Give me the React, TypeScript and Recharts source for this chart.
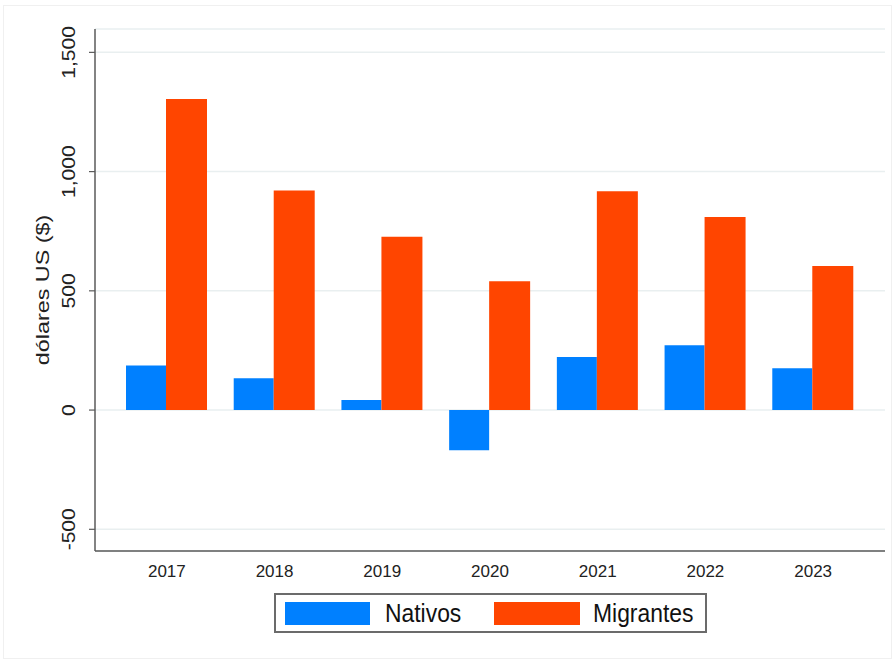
import React from "react";
import {
  Bar,
  BarChart,
  CartesianGrid,
  Legend,
  XAxis,
  YAxis,
} from "recharts";

const years = ["2017", "2018", "2019", "2020", "2021", "2022", "2023"];
const nativos = [187, 133, 42, -169, 223, 272, 175];
const migrantes = [1304, 921, 727, 540, 918, 810, 604];
const yTicks = [-500, 0, 500, 1000, 1500];

const data = years.map((year, i) => ({
  year,
  Nativos: nativos[i],
  Migrantes: migrantes[i],
}));

const fontFamily = "Arial, 'Liberation Sans', sans-serif";
const blue = "#0080ff";
const orange = "#ff4500";
const axisColor = "#5a5a5a";
const gridColor = "#e9eff0";

const YTick = (props: any) => {
  const { y, payload } = props;
  return (
    <text
      transform={`translate(69, ${y}) rotate(-90) scale(1.17, 1)`}
      textAnchor="middle"
      dominantBaseline="central"
      fontSize={18}
      fontFamily={fontFamily}
      fill="#222"
    >
      {Number(payload.value).toLocaleString("en-US")}
    </text>
  );
};

const XTick = (props: any) => {
  const { x, payload } = props;
  return (
    <text
      x={x}
      y={571}
      textAnchor="middle"
      dominantBaseline="central"
      fontSize={17}
      fontFamily={fontFamily}
      fill="#222"
    >
      {payload.value}
    </text>
  );
};

const YLabel = (props: any) => {
  const { viewBox } = props;
  const cy = viewBox.y + viewBox.height / 2;
  return (
    <text
      transform={`translate(43, ${cy}) rotate(-90) scale(1.23, 1)`}
      textAnchor="middle"
      dominantBaseline="central"
      fontSize={19}
      fontFamily={fontFamily}
      fill="#222"
    >
      dólares US ($)
    </text>
  );
};

const legendText: React.CSSProperties = {
  position: "absolute",
  top: 5,
  fontSize: 26,
  lineHeight: 1,
  fontFamily,
  color: "#111",
  transform: "scaleX(0.88)",
  transformOrigin: "left top",
  whiteSpace: "nowrap",
};

const ChartLegend = () => (
  <div
    style={{
      position: "relative",
      width: 433,
      height: 40,
      border: "2px solid #6b6b6b",
      boxSizing: "border-box",
      background: "#fff",
    }}
  >
    <div style={{ position: "absolute", left: 9, top: 7, width: 85, height: 23, background: blue }} />
    <span style={{ ...legendText, left: 109 }}>Nativos</span>
    <div style={{ position: "absolute", left: 218, top: 7, width: 86, height: 23, background: orange }} />
    <span style={{ ...legendText, left: 317 }}>Migrantes</span>
  </div>
);

export default function App() {
  return (
    <div
      style={{
        position: "absolute",
        left: 0,
        top: 0,
        width: 895,
        height: 662,
        background: "#fff",
      }}
    >
      <div
        style={{
          position: "absolute",
          left: 3,
          top: 5,
          right: 3,
          bottom: 3,
          border: "1px solid #f0f0f0",
        }}
      />
      <BarChart
        width={895}
        height={662}
        data={data}
        margin={{ top: 29, right: 10, bottom: 0, left: 0 }}
        barGap={0}
      >
        <CartesianGrid
          vertical={false}
          stroke={gridColor}
          strokeWidth={1.5}
        />
        <XAxis
          dataKey="year"
          height={111}
          padding={{ left: 18, right: 18 }}
          tickLine={false}
          axisLine={{ stroke: axisColor, strokeWidth: 1.5 }}
          tick={<XTick />}
          interval={0}
        />
        <YAxis
          width={95}
          domain={[-591, 1598]}
          ticks={yTicks}
          allowDataOverflow
          tickSize={6}
          tickLine={{ stroke: axisColor, strokeWidth: 1.2 }}
          axisLine={{ stroke: axisColor, strokeWidth: 1.5 }}
          tick={<YTick />}
          label={<YLabel />}
        />
        <Legend
          layout="horizontal"
          verticalAlign="middle"
          align="center"
          wrapperStyle={{ position: "absolute", left: 274, top: 593, width: 433, height: 40 }}
          content={() => <ChartLegend />}
        />
        <Bar dataKey="Nativos" fill={blue} barSize={40} isAnimationActive={false} />
        <Bar dataKey="Migrantes" fill={orange} barSize={41} isAnimationActive={false} />
      </BarChart>
    </div>
  );
}
